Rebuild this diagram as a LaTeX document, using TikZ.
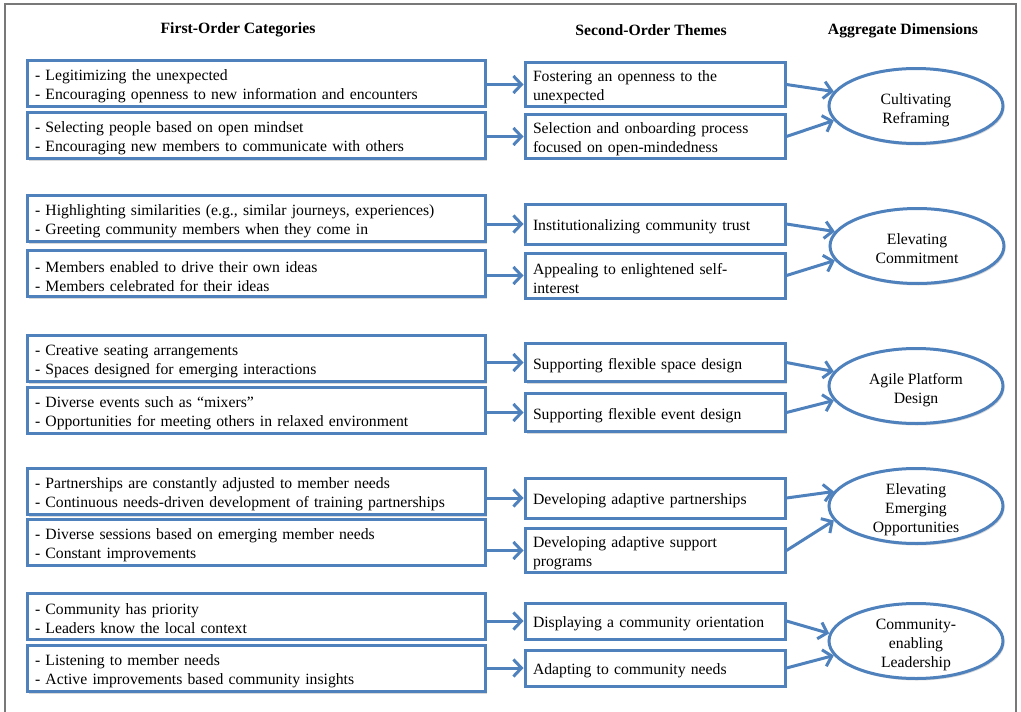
\documentclass[tikz,border=0pt]{standalone}
\usepackage{fontspec}
\setmainfont{Liberation Serif}
\usetikzlibrary{shapes.geometric,arrows.meta,shadows}

\definecolor{boxblue}{RGB}{79,129,189}
\definecolor{framegray}{RGB}{120,120,120}

\newcommand{\boxfont}{\fontsize{15.7}{19}\selectfont}

\tikzset{
  boxshadow/.style={drop shadow={opacity=0.3,shadow xshift=1.5pt,shadow yshift=-2pt}},
  catbox/.style={draw=boxblue,line width=3pt,fill=white,boxshadow,
    minimum width=458pt,minimum height=46pt,text width=442pt,
    inner xsep=8pt,inner ysep=2pt,align=left,
    execute at begin node={\rule{0pt}{17pt}}},
  themebox/.style={draw=boxblue,line width=3pt,fill=white,boxshadow,
    minimum width=260pt,minimum height=38pt,text width=244pt,
    inner xsep=8pt,inner ysep=2pt,align=left,
    execute at begin node={\rule{0pt}{17pt}}},
  dimnode/.style={ellipse,draw=boxblue,line width=3pt,fill=white,boxshadow,
    minimum width=174pt,minimum height=75pt,inner xsep=0pt,inner ysep=-6pt,
    align=center,text height=38pt,text depth=4pt},
  header/.style={font=\boxfont\bfseries,anchor=center},
  conn/.style={draw=boxblue,line width=3pt,-{Straight Barb[length=8pt,width=17pt]}},
}

\begin{document}
\begin{tikzpicture}[x=1pt,y=-1pt,font=\boxfont]

\useasboundingbox (0,0) rectangle (1021,712);

% frame:
\draw[framegray,line width=1.2pt] (5,716) -- (5,4) -- (1016,4) -- (1016,716);

% column headers:
\node[header] (hcat) at (238,29.5) {First-Order Categories};
\node[header] (hthm) at (651,30.5) {Second-Order Themes};
\node[header] (hdim) at (903,31) {Aggregate Dimensions};

% first-order categories:
\node[catbox] (cat1a) at (256,83) {- Legitimizing the unexpected\\- Encouraging openness to new information and encounters};
\node[catbox] (cat1b) at (256,135.5) {- Selecting people based on open mindset\\- Encouraging new members to communicate with others};
\node[catbox] (cat2a) at (256,218.5) {- Highlighting similarities (e.g., similar journeys, experiences)\\- Greeting community members when they come in};
\node[catbox] (cat2b) at (256,273.5) {- Members enabled to drive their own ideas\\- Members celebrated for their ideas};
\node[catbox] (cat3a) at (256,358.5) {- Creative seating arrangements\\- Spaces designed for emerging interactions};
\node[catbox] (cat3b) at (256,410) {- Diverse events such as ``mixers''\\- Opportunities for meeting others in relaxed environment};
\node[catbox] (cat4a) at (256,491.5) {- Partnerships are constantly adjusted to member needs\\- Continuous needs-driven development of training partnerships};
\node[catbox] (cat4b) at (256,542) {- Diverse sessions based on emerging member needs\\- Constant improvements};
\node[catbox] (cat5a) at (256,616) {- Community has priority\\- Leaders know the local context};
\node[catbox] (cat5b) at (256,668.5) {- Listening to member needs\\- Active improvements based community insights};

% second-order themes:
\node[themebox,minimum height=43pt] (thm1a) at (655,84.5) {Fostering an openness to the\\unexpected};
\node[themebox,minimum height=43pt] (thm1b) at (655,136.5) {Selection and onboarding process\\focused on open-mindedness};
\node[themebox,minimum height=40pt] (thm2a) at (655,224) {Institutionalizing community trust};
\node[themebox,minimum height=45pt] (thm2b) at (655,275.5) {Appealing to enlightened self-\\interest};
\node[themebox] (thm3a) at (655,362.5) {Supporting flexible space design};
\node[themebox] (thm3b) at (655,412.5) {Supporting flexible event design};
\node[themebox,minimum height=40pt] (thm4a) at (655,498) {Developing adaptive partnerships};
\node[themebox,minimum height=43pt] (thm4b) at (655,550.5) {Developing adaptive support\\programs};
\node[themebox,minimum height=36pt] (thm5a) at (655,621) {Displaying a community orientation};
\node[themebox,minimum height=36pt] (thm5b) at (655,668) {Adapting to community needs};

% aggregate dimensions:
\node[dimnode] (dim1) at (916,106) {Cultivating\\Reframing};
\node[dimnode] (dim2) at (917,246) {Elevating\\Commitment};
\node[dimnode] (dim3) at (916,386) {Agile Platform\\Design};
\node[dimnode,text height=57pt] (dim4) at (916,506) {Elevating\\Emerging\\Opportunities};
\node[dimnode,text height=57pt] (dim5) at (916,641) {Community-\\enabling\\Leadership};

% categories to themes:
\draw[conn] (cat1a.east |- thm1a.west) -- (thm1a.west);
\draw[conn] (cat1b.east |- thm1b.west) -- (thm1b.west);
\draw[conn] (cat2a.east |- thm2a.west) -- (thm2a.west);
\draw[conn] (cat2b.east |- thm2b.west) -- (thm2b.west);
\draw[conn] (cat3a.east |- thm3a.west) -- (thm3a.west);
\draw[conn] (cat3b.east |- thm3b.west) -- (thm3b.west);
\draw[conn] (cat4a.east |- thm4a.west) -- (thm4a.west);
\draw[conn] (cat4b.east |- thm4b.west) -- (thm4b.west);
\draw[conn] (cat5a.east |- thm5a.west) -- (thm5a.west);
\draw[conn] (cat5b.east |- thm5b.west) -- (thm5b.west);

% themes to dimensions:
\draw[conn] (thm1a.east) -- (dim1.170);
\draw[conn] (thm1b.east) -- (dim1.190);
\draw[conn] (thm2a.east) -- (dim2.170);
\draw[conn] (thm2b.east) -- (dim2.190);
\draw[conn] (thm3a.east) -- (dim3.170);
\draw[conn] (thm3b.east) -- (dim3.190);
\draw[conn] (thm4a.east) -- (dim4.170);
\draw[conn] (thm4b.east) -- (dim4.190);
\draw[conn] (thm5a.east) -- (dim5.175);
\draw[conn] (thm5b.east) -- (dim5.190);

\end{tikzpicture}
\end{document}
